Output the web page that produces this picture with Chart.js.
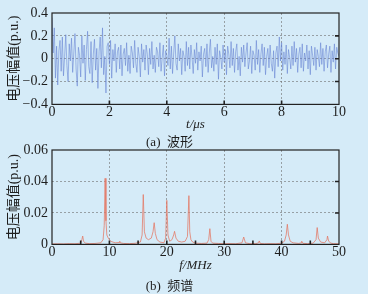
<!DOCTYPE html>
<html>
<head>
<meta charset="utf-8">
<script src="https://cdn.jsdelivr.net/npm/chart.js@4/dist/chart.umd.min.js"></script>
<style>
  html, body { margin: 0; padding: 0; background: #d5ebf8; overflow: hidden; }
  .top { position: relative; width: 368px; height: 150px; }
  .bottom { position: relative; width: 368px; height: 154px; margin-top: -10px; }
</style>
</head>
<body>
<div class="top"><canvas id="waveChart"></canvas></div>
<div class="bottom"><canvas id="specChart"></canvas></div>
<script>
// --- waveform (a): sampled every 0.04 us from 0 to 10 us
var waveStep = 0.04;
var waveValues = [
  0.36, 0.05, 0.27, -0.17, 0.11, -0.23, 0.07, 0.16, -0.11, 0.19,
  -0.15, 0.02, 0.21, -0.06, -0.20, 0.13, -0.02, 0.18, -0.12, 0.05,
  0.22, -0.09, -0.24, 0.10, 0.03, -0.16, 0.20, -0.04, 0.12, -0.19,
  0.08, 0.24, -0.07, -0.13, 0.15, -0.21, 0.04, 0.17, -0.10, 0.09,
  -0.26, 0.06, 0.19, -0.08, 0.27, -0.14, 0.02, -0.30, 0.11, 0.14,
  -0.05, 0.16, -0.17, 0.08, -0.02, 0.13, -0.12, 0.06, 0.10, -0.09,
  0.12, -0.15, 0.04, 0.09, -0.06, 0.14, -0.11, 0.03, -0.13, 0.11,
  0.05, -0.08, 0.16, -0.04, -0.12, 0.10, 0.02, -0.16, 0.13, -0.03,
  0.08, -0.10, 0.12, 0.04, -0.14, 0.09, -0.05, 0.15, -0.09, 0.03,
  -0.12, 0.10, 0.06, -0.07, 0.14, -0.11, 0.01, 0.12, -0.15, 0.07,
  0.03, -0.06, 0.18, -0.09, 0.11, -0.13, 0.05, 0.20, -0.04, -0.10,
  0.13, -0.02, 0.09, -0.14, 0.07, 0.02, -0.11, 0.15, -0.06, 0.10,
  -0.09, 0.12, 0.01, -0.13, 0.08, -0.04, 0.14, -0.10, 0.06, -0.02,
  0.11, -0.16, 0.04, 0.09, -0.07, 0.13, -0.12, 0.05, 0.17, -0.08,
  0.02, -0.11, 0.10, -0.05, 0.13, -0.18, 0.07, 0.01, -0.09, 0.12,
  -0.03, 0.08, -0.14, 0.11, 0.04, -0.08, 0.15, -0.06, 0.09, -0.12,
  0.06, 0.13, -0.10, 0.02, -0.15, 0.10, -0.03, 0.12, -0.07, 0.05,
  0.14, -0.09, -0.02, 0.11, -0.13, 0.07, 0.03, -0.10, 0.16, -0.05,
  0.08, -0.12, 0.04, 0.13, -0.06, 0.10, -0.14, 0.02, 0.09, -0.08,
  0.12, -0.04, -0.11, 0.07, -0.17, 0.05, 0.11, -0.07, 0.19, -0.02,
  0.14, -0.10, 0.06, -0.05, 0.12, -0.13, 0.08, 0.01, -0.09, 0.11,
  -0.06, 0.15, -0.03, 0.09, -0.12, 0.04, 0.10, -0.08, 0.13, -0.11,
  0.05, -0.02, 0.12, -0.09, 0.07, -0.14, 0.11, 0.03, -0.06, 0.10,
  -0.10, 0.08, 0.02, -0.07, 0.14, -0.05, 0.09, -0.11, 0.06, 0.12,
  -0.08, 0.04, 0.11, -0.12, 0.07, -0.03, 0.13, -0.09, 0.10, 0.05,
  0.02
];
var waveInnerXTicks = [2, 4, 6, 8];
var waveInnerYTicks = [-0.2, 0, 0.2];

// --- spectrum (b)
var specFreq = [
  0, 1, 2, 3, 4, 5.0, 5.2, 5.35, 5.5, 5.8,
  6.5, 7.5, 8.5, 8.9, 9.1, 9.25, 9.4, 9.55, 9.8, 10.2,
  11, 11.7, 11.8, 11.9, 12.5, 13.5, 14.5, 15.4, 15.7, 15.9,
  16.1, 16.4, 16.8, 17.3, 17.6, 17.8, 18.0, 18.3, 18.8, 19.5,
  19.8, 20.0, 20.2, 20.5, 20.9, 21.2, 21.35, 21.6, 22.0, 22.6,
  23.2, 23.6, 23.85, 24.0, 24.2, 24.5, 25.0, 26, 27, 27.3,
  27.5, 27.7, 28, 29, 30, 31, 32, 33.1, 33.4, 33.7,
  34.5, 35.5, 36.0, 36.1, 36.3, 37, 38, 39, 40, 40.5,
  40.8, 41.0, 41.2, 41.5, 42, 43, 43.4, 43.5, 43.7, 44.5,
  45.5, 46.0, 46.2, 46.4, 46.8, 47.5, 47.9, 48.0, 48.2, 48.6,
  49, 50
];
var specAmp = [
  0.0003, 0.0004, 0.0003, 0.0005, 0.0004, 0.0008, 0.003, 0.0053, 0.002, 0.0008,
  0.0005, 0.0006, 0.001, 0.003, 0.012, 0.042, 0.015, 0.006, 0.004, 0.002,
  0.001, 0.0012, 0.002, 0.001, 0.0006, 0.0005, 0.0007, 0.0015, 0.006, 0.0317,
  0.008, 0.004, 0.003, 0.004, 0.008, 0.0138, 0.007, 0.003, 0.0015, 0.001,
  0.004, 0.028, 0.006, 0.002, 0.003, 0.006, 0.0083, 0.004, 0.002, 0.0015,
  0.002, 0.005, 0.031, 0.008, 0.003, 0.0015, 0.0008, 0.0006, 0.0008, 0.003,
  0.010, 0.002, 0.0008, 0.0006, 0.0004, 0.0005, 0.0004, 0.001, 0.0047, 0.001,
  0.0004, 0.0005, 0.001, 0.0022, 0.0006, 0.0004, 0.0005, 0.0004, 0.0008, 0.002,
  0.006, 0.0128, 0.006, 0.002, 0.001, 0.0006, 0.001, 0.002, 0.0007, 0.0005,
  0.0008, 0.003, 0.0107, 0.004, 0.0015, 0.001, 0.003, 0.0053, 0.002, 0.0008,
  0.0005, 0.0004
];
var specInnerXTicks = [5, 10, 15, 20, 25, 30, 35, 40, 45];
var specInnerYTicks = [0.02, 0.04];

var serif = "'Liberation Serif', 'DejaVu Serif', 'Noto Sans CJK SC', serif";
var textColor = '#1e1e1e';

// frame round the plot area plus short inward ticks
var framePlugin = {
    id: 'frame',
    afterDraw: function (chart, args, opts) {
        var a = chart.chartArea, c = chart.ctx;
        var xs = chart.scales.x, ys = chart.scales.y;
        c.save();
        c.strokeStyle = '#222';
        c.lineWidth = 1.2;
        c.strokeRect(a.left, a.top, a.right - a.left, a.bottom - a.top);
        c.lineWidth = 1.6;
        c.beginPath();
        opts.xTicks.forEach(function (v) {
            var px = xs.getPixelForValue(v);
            c.moveTo(px, a.bottom);
            c.lineTo(px, a.bottom - 4);
        });
        opts.yTicks.forEach(function (v) {
            var py = ys.getPixelForValue(v);
            c.moveTo(a.right, py);
            c.lineTo(a.right - 4, py);
        });
        c.stroke();
        c.restore();
    }
};

function gridColor(ctx) {
    var s = ctx.scale;
    if (ctx.tick && (Math.abs(ctx.tick.value - s.min) < 1e-9 || Math.abs(ctx.tick.value - s.max) < 1e-9)) {
        return 'rgba(0,0,0,0)';
    }
    return 'rgba(110,110,110,0.75)';
}

function baseOptions(cfg) {
    return {
        responsive: true,
        maintainAspectRatio: false,
        animation: false,
        layout: { padding: { left: 0, right: 29, top: cfg.top, bottom: 0 } },
        plugins: {
            legend: { display: false },
            tooltip: { enabled: false },
            title: {
                display: true,
                position: 'bottom',
                text: cfg.caption,
                color: textColor,
                font: { family: serif, size: 13, weight: 'normal' },
                padding: { top: 0, bottom: 0 }
            },
            frame: { xTicks: cfg.innerX, yTicks: cfg.innerY }
        },
        scales: {
            x: {
                type: 'linear',
                min: cfg.xMin, max: cfg.xMax,
                afterFit: function (s) { s.height = cfg.xHeight; },
                ticks: {
                    stepSize: cfg.xStep,
                    color: textColor,
                    padding: 0,
                    maxRotation: 0,
                    font: { family: serif, size: 14 }
                },
                grid: { color: gridColor, drawTicks: false, lineWidth: 0.8 },
                border: { display: false, dash: [2, 2] },
                title: {
                    display: true,
                    text: cfg.xTitle,
                    color: textColor,
                    padding: { top: 0, bottom: cfg.xTitlePad },
                    font: { family: serif, size: 13, style: 'italic' }
                }
            },
            y: {
                min: cfg.yMin, max: cfg.yMax,
                afterFit: function (s) {
                    s.width = 52;
                    s.paddingTop = 0;
                    s.paddingBottom = 0;
                },
                ticks: {
                    stepSize: cfg.yStep,
                    color: textColor,
                    padding: 4,
                    font: { family: serif, size: 14 },
                    callback: cfg.yFormat
                },
                grid: { color: gridColor, drawTicks: false, lineWidth: 0.8 },
                border: { display: false, dash: [2, 2] },
                title: {
                    display: true,
                    text: '电压幅值(p.u.)',
                    color: textColor,
                    padding: { top: 6, bottom: 0 },
                    font: { family: serif, size: 14 }
                }
            }
        }
    };
}

var wavePoints = waveValues.map(function (v, i) { return { x: +(i * waveStep).toFixed(2), y: v }; });
new Chart(document.getElementById('waveChart').getContext('2d'), {
    type: 'line',
    data: {
        datasets: [{
            data: wavePoints,
            borderColor: 'rgba(100,130,210,0.8)',
            borderWidth: 0.7,
            pointRadius: 0,
            tension: 0
        }]
    },
    options: baseOptions({
        top: 13, caption: '(a)  波形', xHeight: 30, xTitlePad: 2,
        xMin: 0, xMax: 10, xStep: 2, xTitle: 't/μs',
        yMin: -0.4, yMax: 0.4, yStep: 0.2,
        innerX: waveInnerXTicks, innerY: waveInnerYTicks,
        yFormat: function (v) {
            if (Math.abs(v) < 1e-9) return '0';
            return v.toFixed(1).replace('-', '−');
        }
    }),
    plugins: [framePlugin]
});

var specPoints = specFreq.map(function (f, i) { return { x: f, y: specAmp[i] }; });
new Chart(document.getElementById('specChart').getContext('2d'), {
    type: 'line',
    data: {
        datasets: [{
            data: specPoints,
            borderColor: 'rgba(228,120,100,0.85)',
            borderWidth: 0.9,
            pointRadius: 0,
            tension: 0
        }]
    },
    options: baseOptions({
        top: 10, caption: '(b)  频谱', xHeight: 34, xTitlePad: 5,
        xMin: 0, xMax: 50, xStep: 10, xTitle: 'f/MHz',
        yMin: 0, yMax: 0.06, yStep: 0.02,
        innerX: specInnerXTicks, innerY: specInnerYTicks,
        yFormat: function (v) {
            if (Math.abs(v) < 1e-9) return '0';
            return v.toFixed(2);
        }
    }),
    plugins: [framePlugin]
});
</script>
</body>
</html>
